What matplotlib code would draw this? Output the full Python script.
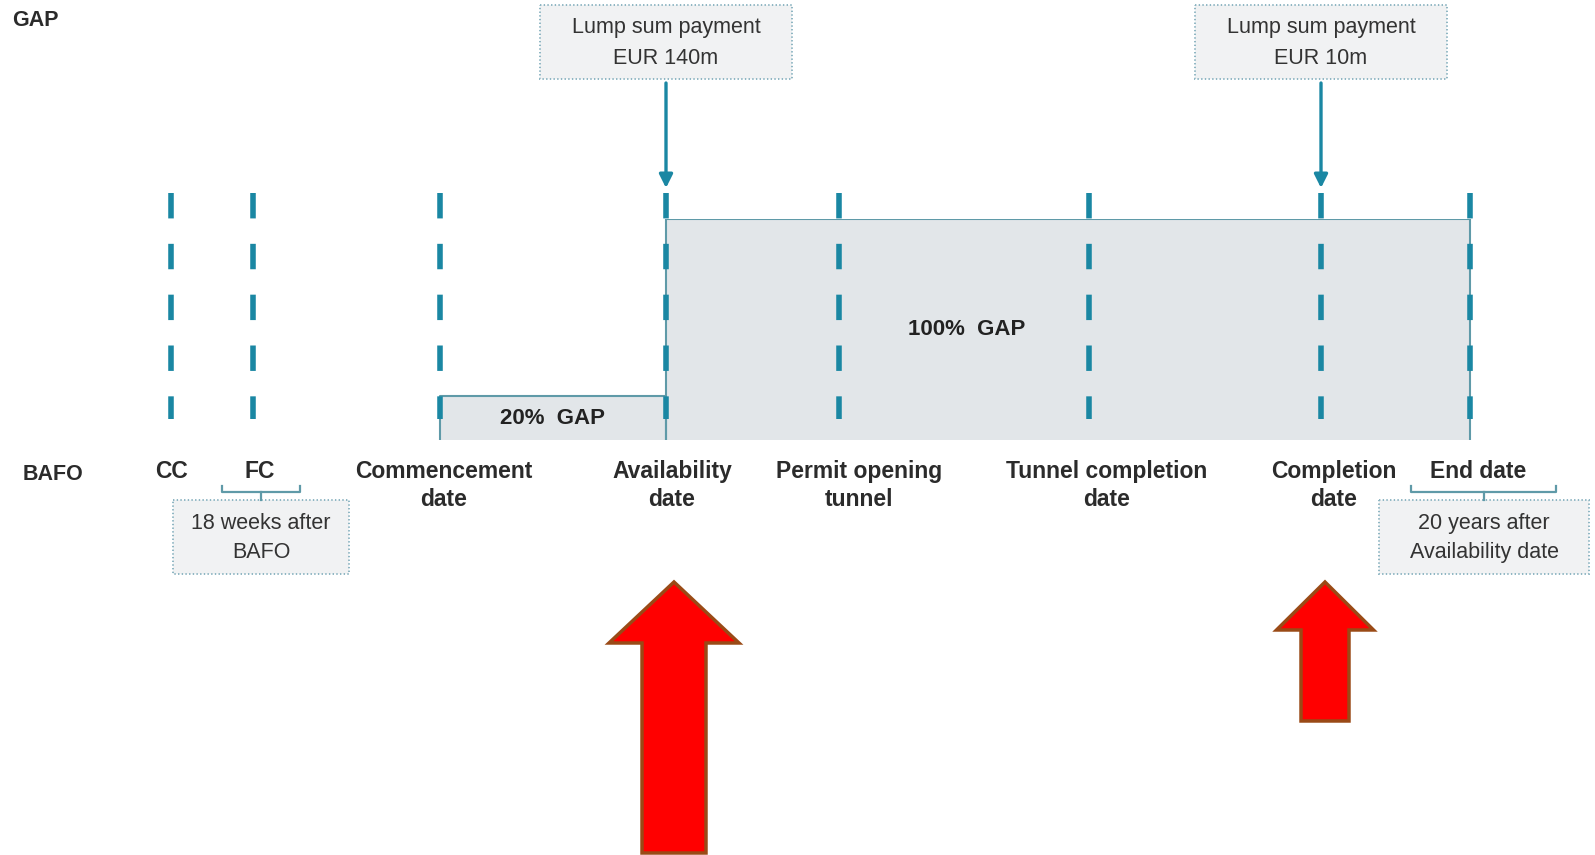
import matplotlib
matplotlib.use("Agg")
import matplotlib.pyplot as plt
from matplotlib.patches import Rectangle, FancyArrow

plt.rcParams['font.family'] = ['Liberation Sans', 'DejaVu Sans']
plt.rcParams['lines.scale_dashes'] = False

# timeline milestones (x in canvas px)
milestones = ["CC", "FC", "Commencement\ndate", "Availability\ndate",
              "Permit opening\ntunnel", "Tunnel completion\ndate",
              "Completion\ndate", "End date"]
milestone_x = [171, 253, 440, 666, 839, 1089, 1321, 1470]
label_x = [171, 260, 444, 672, 859, 1107, 1334, 1478]

# GAP phases: (start milestone, end milestone, percent)
gap_start = [2, 3]
gap_end = [3, 7]
gap_pct = [20, 100]
gap_text_x = [553, 967]

# lump sum payments attached to milestones
pay_idx = [3, 6]
pay_eur_m = [140, 10]

# notes under milestone ranges
note_text = ["18 weeks after\nBAFO", "20 years after\nAvailability date"]
note_span = [(222, 300), (1411, 1556)]
note_box = [(173, 349), (1379, 1589)]

teal = '#1a87a3'
edge = '#5f9aa8'
W, H = 1595, 855

fig = plt.figure(figsize=(W / 100, H / 100), dpi=100)
fig.patch.set_facecolor('white')

# GAP band axes: y in percent
base_y, top_y = 440.5, 218.7
axg = fig.add_axes([0, 1 - base_y / H, 1, (base_y - top_y) / H])
axg.set_xlim(0, W)
axg.set_ylim(0, 100)
axg.axis('off')
for s, e, p, tx in zip(gap_start, gap_end, gap_pct, gap_text_x):
    x0, x1 = milestone_x[s], milestone_x[e]
    axg.bar(x0, p, width=x1 - x0, align='edge', color='#e2e6e9', lw=0, zorder=1)
    axg.plot([x0, x0, x1, x1], [0, p, p, 0], color=edge, lw=1.5, zorder=2)
    axg.text(tx, p / 2, f"{p}%  GAP", ha='center', va='center',
             fontsize=16, fontweight='bold', color='#222222', zorder=3)

# main canvas axes in pixel units
ax = fig.add_axes([0, 0, 1, 1], facecolor='none')
ax.set_xlim(0, W)
ax.set_ylim(H, 0)
ax.axis('off')

for x in milestone_x:
    ax.plot([x, x], [193, 419], color=teal, lw=4, dashes=(18.3, 18.3),
            solid_capstyle='butt', dash_capstyle='butt', zorder=4)

for x, lab in zip(label_x, milestones):
    ax.text(x, 460, lab, ha='center', va='top', fontsize=16.5,
            fontweight='bold', color='#2b2b2b', linespacing=1.25)

ax.text(12, 20, "GAP", ha='left', va='center', fontsize=15.5,
        fontweight='bold', color='#2b2b2b')
ax.text(53, 474, "BAFO", ha='center', va='center', fontsize=15.5,
        fontweight='bold', color='#2b2b2b')

# payment boxes and arrows
for i, amt in zip(pay_idx, pay_eur_m):
    x = milestone_x[i]
    ax.add_patch(Rectangle((x - 126, 5), 252, 74, facecolor='#f1f2f3',
                           edgecolor='#8db5c2', lw=1.4, ls=':'))
    ax.text(x, 43, f"Lump sum payment\nEUR {amt}m", ha='center', va='center',
            fontsize=15.5, color='#333333', linespacing=1.6)
    ax.annotate('', xy=(x, 188), xytext=(x, 83),
                arrowprops=dict(arrowstyle='-|>,head_width=0.4,head_length=0.8',
                                color=teal, lw=2.4, shrinkA=0, shrinkB=0))

# brackets with notes
for txt, (b0, b1), (n0, n1) in zip(note_text, note_span, note_box):
    c = (b0 + b1) / 2
    ax.plot([b0, b0, b1, b1], [486, 492, 492, 486], color=edge, lw=1.6)
    ax.plot([c, c], [492, 500], color=edge, lw=1.6)
    ax.add_patch(Rectangle((n0, 500), n1 - n0, 74, facecolor='#f1f2f3',
                           edgecolor='#8db5c2', lw=1.4, ls=':'))
    ax.text((n0 + n1) / 2, 538, txt, ha='center', va='center', fontsize=15.5,
            color='#333333', linespacing=1.55)

# red highlight arrows
ax.add_patch(FancyArrow(674, 853, 0, -271, width=64, head_width=130,
                        head_length=61, length_includes_head=True,
                        facecolor='#ff0000', edgecolor='#9a4a16', lw=2.5))
ax.add_patch(FancyArrow(1325, 721, 0, -139, width=48, head_width=97,
                        head_length=48, length_includes_head=True,
                        facecolor='#ff0000', edgecolor='#9a4a16', lw=2.5))

fig.savefig('out.png', dpi=100, facecolor='white')
